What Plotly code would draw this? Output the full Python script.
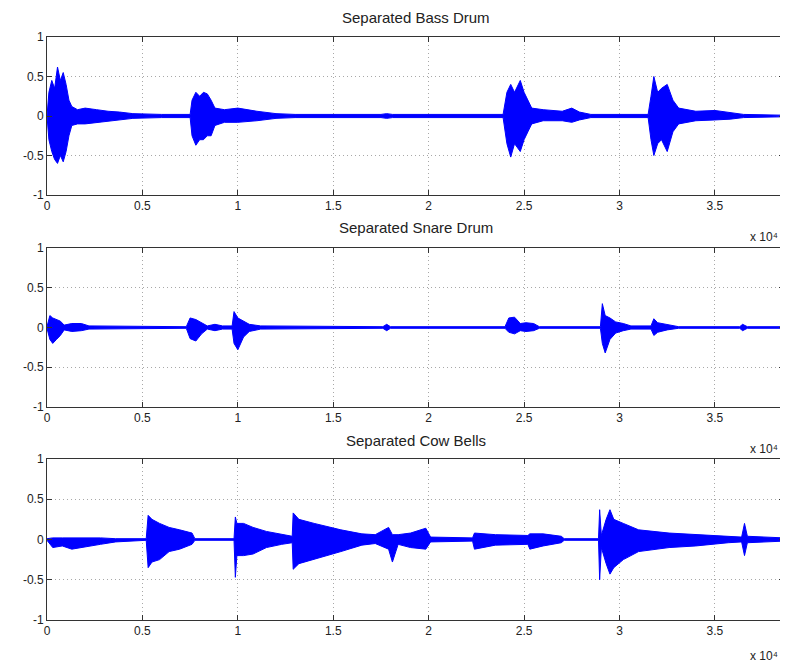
import plotly.graph_objects as go

# ---------------- data (envelope of waveforms) ----------------
titles = ["Separated Bass Drum", "Separated Snare Drum", "Separated Cow Bells"]
x_tick_vals = [0, 5000, 10000, 15000, 20000, 25000, 30000, 35000]
x_tick_text = ["0", "0.5", "1", "1.5", "2", "2.5", "3", "3.5"]
y_tick_vals = [-1, -0.5, 0, 0.5, 1]
y_tick_text = ["-1", "-0.5", "0", "0.5", "1"]
n_samples = 38620

bass_x = [0, 100, 250, 400, 550, 700, 850, 1000, 1150, 1300, 1600, 2000, 2600, 3200, 3800, 4500,
          6000, 7500, 7600, 7800, 8000, 8200, 8400, 8600, 8800, 9300, 10000, 11000, 12000, 13000,
          17500, 17800, 18100, 23900, 24100, 24300, 24500, 24800, 25000, 25200, 25400, 26000,
          27000, 27500, 27900, 28500, 31500, 31650, 31800, 32000, 32200, 32500, 32800, 33100,
          34000, 35000, 35800, 36500, 38620]
bass_up = [0.0, 0.3, 0.45, 0.35, 0.62, 0.45, 0.55, 0.4, 0.2, 0.12, 0.08, 0.1, 0.08, 0.06, 0.05, 0.03,
           0.02, 0.02, 0.2, 0.3, 0.25, 0.3, 0.28, 0.2, 0.1, 0.08, 0.1, 0.06, 0.03, 0.02,
           0.02, 0.03, 0.02, 0.02, 0.3, 0.4, 0.3, 0.45, 0.3, 0.2, 0.1, 0.08,
           0.06, 0.1, 0.05, 0.02, 0.02, 0.25, 0.5, 0.3, 0.35, 0.4, 0.2, 0.1,
           0.06, 0.07, 0.04, 0.02, 0.01]
bass_lo = [0.0, -0.3, -0.45, -0.55, -0.6, -0.5, -0.58, -0.45, -0.25, -0.12, -0.1, -0.1, -0.08, -0.06, -0.05, -0.03,
           -0.02, -0.02, -0.25, -0.37, -0.3, -0.3, -0.25, -0.25, -0.12, -0.08, -0.08, -0.06, -0.03, -0.02,
           -0.02, -0.03, -0.02, -0.02, -0.35, -0.52, -0.35, -0.45, -0.3, -0.2, -0.1, -0.06,
           -0.06, -0.08, -0.05, -0.02, -0.02, -0.3, -0.5, -0.35, -0.3, -0.45, -0.2, -0.1,
           -0.06, -0.05, -0.04, -0.02, -0.01]

snare_x = [0, 150, 300, 500, 700, 900, 1300, 1800, 2200, 7300, 7500, 7800, 8100, 8400, 8800, 9200,
           9700, 9800, 10000, 10300, 10600, 11200, 17600, 17800, 18000, 24000, 24200, 24500, 24800,
           25100, 25500, 25800, 29000, 29100, 29250, 29500, 29800, 30200, 30600, 31650, 31800, 32000,
           32500, 33100, 36300, 36450, 36700, 38620]
snare_up = [0.01, 0.15, 0.12, 0.1, 0.08, 0.03, 0.05, 0.05, 0.02, 0.01, 0.12, 0.1, 0.06, 0.02, 0.04, 0.02,
            0.02, 0.2, 0.12, 0.08, 0.04, 0.02, 0.01, 0.04, 0.01, 0.01, 0.12, 0.13, 0.05,
            0.06, 0.05, 0.01, 0.01, 0.3, 0.15, 0.12, 0.07, 0.05, 0.02, 0.02, 0.11, 0.06,
            0.04, 0.01, 0.01, 0.04, 0.01, 0.01]
snare_lo = [-0.01, -0.15, -0.2, -0.15, -0.1, -0.03, -0.05, -0.04, -0.02, -0.01, -0.14, -0.17, -0.08, -0.02, -0.04, -0.02,
            -0.02, -0.2, -0.28, -0.12, -0.05, -0.02, -0.01, -0.04, -0.01, -0.01, -0.06, -0.08, -0.04,
            -0.05, -0.04, -0.01, -0.01, -0.2, -0.32, -0.15, -0.07, -0.04, -0.02, -0.02, -0.1, -0.06,
            -0.03, -0.01, -0.01, -0.04, -0.01, -0.01]

bells_x = [0, 300, 800, 1300, 2000, 2800, 3600, 5200, 5300, 5500, 5900, 6400, 6950, 7600, 7750,
           9800, 9870, 9950, 10300, 10800, 11500, 12300, 12850, 12900, 13200, 14000, 15400, 16500,
           17200, 17900, 18100, 18400, 19050, 19850, 20100, 22300, 22400, 23500, 25200, 25300,
           26000, 26950, 27100, 28900, 28960, 29050, 29300, 29500, 29700, 30200, 31000, 32600,
           34000, 35700, 36400, 36550, 36700, 38620]
bells_up = [0.01, 0.02, 0.02, 0.02, 0.02, 0.02, 0.01, 0.01, 0.3, 0.25, 0.2, 0.15, 0.12, 0.08, 0.01,
            0.01, 0.28, 0.2, 0.2, 0.15, 0.1, 0.06, 0.04, 0.33, 0.25, 0.2, 0.12, 0.07,
            0.06, 0.15, 0.06, 0.06, 0.08, 0.14, 0.03, 0.02, 0.08, 0.06, 0.05, 0.07,
            0.07, 0.04, 0.01, 0.01, 0.37, 0.05, 0.25, 0.37, 0.25, 0.2, 0.12, 0.08,
            0.06, 0.04, 0.03, 0.2, 0.04, 0.02]
bells_lo = [-0.01, -0.1, -0.08, -0.12, -0.09, -0.06, -0.03, -0.01, -0.35, -0.28, -0.25, -0.15, -0.12, -0.06, -0.01,
            -0.01, -0.47, -0.2, -0.2, -0.18, -0.1, -0.06, -0.04, -0.37, -0.3, -0.25, -0.15, -0.07,
            -0.05, -0.12, -0.28, -0.06, -0.1, -0.12, -0.03, -0.02, -0.12, -0.07, -0.06, -0.12,
            -0.08, -0.04, -0.01, -0.01, -0.5, -0.1, -0.3, -0.43, -0.35, -0.25, -0.15, -0.1,
            -0.08, -0.04, -0.03, -0.2, -0.04, -0.02]

series = [(bass_x, bass_up, bass_lo), (snare_x, snare_up, snare_lo), (bells_x, bells_up, bells_lo)]

# ---------------- layout ----------------
OFF = 8                      # page body margin of the browser
W, H = 788 - OFF, 668 - OFF
x_dom = [(47 - OFF) / W, (784 - OFF) / W]
panels_px = [(37, 195), (248, 407), (459, 620)]   # top, bottom in window pixels
title_px = [17, 228, 440]
mult_px = [237, 449, 656]
FONT = "Liberation Sans, Arial, sans-serif"
TXT = "#222222"

fig = go.Figure()
layout = dict(width=W, height=H, autosize=False, showlegend=False,
              margin=dict(l=0, r=0, t=0, b=0, autoexpand=False),
              paper_bgcolor="white", plot_bgcolor="white",
              font=dict(family=FONT, size=12, color=TXT))
annotations = []

for i, ((xs, up, lo), (top, bot)) in enumerate(zip(series, panels_px)):
    k = "" if i == 0 else str(i + 1)
    xa, ya = "x" + k, "y" + k
    fig.add_trace(go.Scatter(
        x=list(xs) + list(xs)[::-1], y=list(up) + list(lo)[::-1],
        xaxis=xa, yaxis=ya, mode="lines", fill="toself",
        fillcolor="#0000ff", line=dict(color="#0000ff", width=1), hoverinfo="skip"))
    common = dict(showline=True, linecolor="#333333", linewidth=1, mirror="allticks",
                  ticks="inside", ticklen=5, tickcolor="#333333",
                  showgrid=True, gridcolor="#a8a8a8", griddash="1px,3px", gridwidth=1,
                  zeroline=False, automargin=False,
                  tickfont=dict(family=FONT, size=12, color=TXT))
    layout["xaxis" + k] = dict(domain=x_dom, range=[0, n_samples], anchor=ya,
                               tickvals=x_tick_vals, ticktext=x_tick_text, **common)
    layout["yaxis" + k] = dict(domain=[1 - (bot - OFF) / H, 1 - (top - OFF) / H],
                               range=[-1, 1], anchor=xa,
                               tickvals=y_tick_vals, ticktext=y_tick_text, **common)
    annotations.append(dict(text=titles[i], xref="paper", yref="paper",
                            x=(x_dom[0] + x_dom[1]) / 2, y=1 - (title_px[i] - OFF) / H,
                            xanchor="center", yanchor="middle", showarrow=False,
                            font=dict(family=FONT, size=15, color=TXT)))
    annotations.append(dict(text="x 10\u2074", xref="paper", yref="paper",
                            x=(764 - OFF) / W, y=1 - (mult_px[i] - OFF) / H,
                            xanchor="center", yanchor="middle", showarrow=False,
                            font=dict(family=FONT, size=12, color=TXT)))

layout["annotations"] = annotations
fig.update_layout(**layout)
fig.write_html("out.html")
